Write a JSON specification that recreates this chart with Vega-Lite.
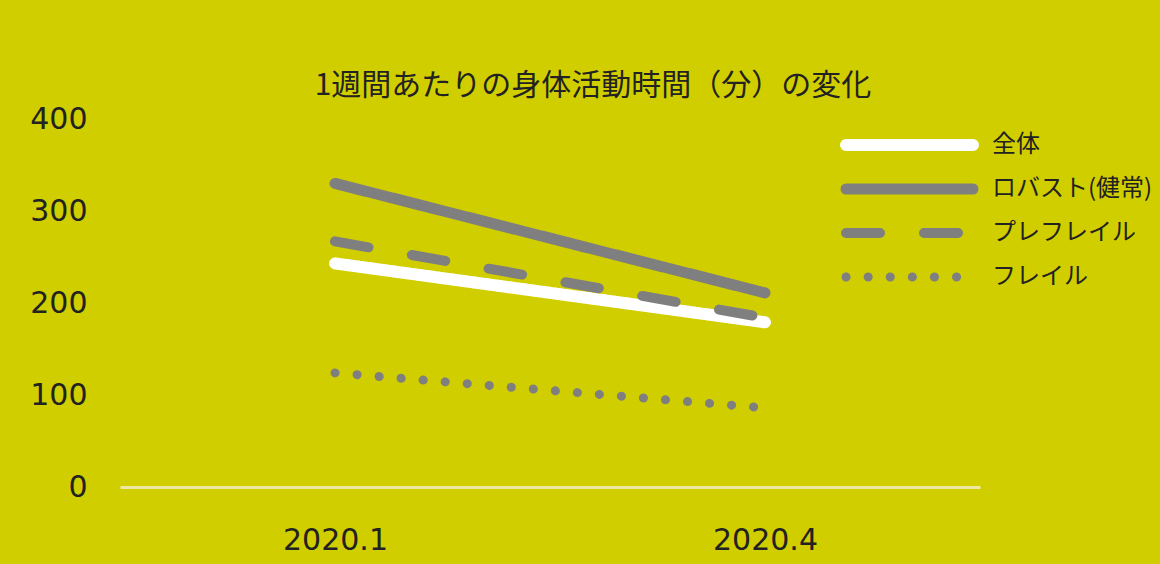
{
  "$schema": "https://vega.github.io/schema/vega-lite/v6.json",
  "width": 860,
  "height": 368,
  "autosize": {"type": "none"},
  "padding": {"left": 120, "top": 119, "right": 180, "bottom": 77},
  "background": "#D1CE00",
  "title": {
    "text": "1週間あたりの身体活動時間（分）の変化",
    "font": "Noto Sans CJK JP",
    "fontSize": 30,
    "fontWeight": "normal",
    "color": "#222222",
    "anchor": "middle",
    "dx": 43,
    "offset": 3
  },
  "data": {
    "values": [
      {"period": "2020.1", "series": "全体", "minutes": 243},
      {"period": "2020.4", "series": "全体", "minutes": 179},
      {"period": "2020.1", "series": "ロバスト(健常)", "minutes": 330},
      {"period": "2020.4", "series": "ロバスト(健常)", "minutes": 211},
      {"period": "2020.1", "series": "プレフレイル", "minutes": 267},
      {"period": "2020.4", "series": "プレフレイル", "minutes": 184},
      {"period": "2020.1", "series": "フレイル", "minutes": 124},
      {"period": "2020.4", "series": "フレイル", "minutes": 86}
    ]
  },
  "mark": {"type": "line", "strokeCap": "round"},
  "encoding": {
    "x": {
      "field": "period",
      "type": "ordinal",
      "scale": {"type": "point", "padding": 0.5},
      "axis": {
        "title": null,
        "labelAngle": 0,
        "labelFont": "DejaVu Sans",
        "labelFontSize": 30,
        "labelColor": "#222222",
        "labelPadding": 38,
        "ticks": false,
        "domain": true,
        "domainColor": "#EFE7A6",
        "domainWidth": 3,
        "grid": false
      }
    },
    "y": {
      "field": "minutes",
      "type": "quantitative",
      "scale": {"domain": [0, 400], "nice": false},
      "axis": {
        "title": null,
        "values": [0, 100, 200, 300, 400],
        "labelFont": "DejaVu Sans",
        "labelFontSize": 30,
        "labelColor": "#222222",
        "labelPadding": 33,
        "ticks": false,
        "domain": false,
        "grid": false
      }
    },
    "color": {
      "field": "series",
      "type": "nominal",
      "scale": {
        "domain": ["全体", "ロバスト(健常)", "プレフレイル", "フレイル"],
        "range": ["#FFFFFF", "#7F7F7F", "#7F7F7F", "#7F7F7F"]
      },
      "legend": {
        "title": null,
        "orient": "none",
        "legendX": 720,
        "legendY": 11,
        "symbolType": "stroke",
        "symbolSize": 16129,
        "clipHeight": 30,
        "rowPadding": 14,
        "labelOffset": 13,
        "labelLimit": 400,
        "labelFont": "Noto Sans CJK JP",
        "labelFontSize": 24,
        "labelColor": "#222222",
        "encoding": {"symbols": {"strokeCap": {"value": "round"}}}
      }
    },
    "strokeDash": {
      "field": "series",
      "type": "nominal",
      "scale": {
        "domain": ["全体", "ロバスト(健常)", "プレフレイル", "フレイル"],
        "range": [[1, 0], [1, 0], [34, 44], [0.1, 22]]
      },
      "legend": {
        "title": null,
        "orient": "none",
        "legendX": 720,
        "legendY": 11,
        "symbolType": "stroke",
        "symbolSize": 16129,
        "clipHeight": 30,
        "rowPadding": 14,
        "labelOffset": 13,
        "labelLimit": 400,
        "labelFont": "Noto Sans CJK JP",
        "labelFontSize": 24,
        "labelColor": "#222222",
        "encoding": {"symbols": {"strokeCap": {"value": "round"}}}
      }
    },
    "strokeWidth": {
      "field": "series",
      "type": "nominal",
      "scale": {
        "domain": ["全体", "ロバスト(健常)", "プレフレイル", "フレイル"],
        "range": [12, 9, 9, 10]
      },
      "legend": {
        "title": null,
        "orient": "none",
        "legendX": 720,
        "legendY": 11,
        "symbolType": "stroke",
        "symbolSize": 16129,
        "clipHeight": 30,
        "rowPadding": 14,
        "labelOffset": 13,
        "labelLimit": 400,
        "labelFont": "Noto Sans CJK JP",
        "labelFontSize": 24,
        "labelColor": "#222222",
        "encoding": {"symbols": {"strokeCap": {"value": "round"}}}
      }
    }
  },
  "config": {"view": {"stroke": null}}
}
